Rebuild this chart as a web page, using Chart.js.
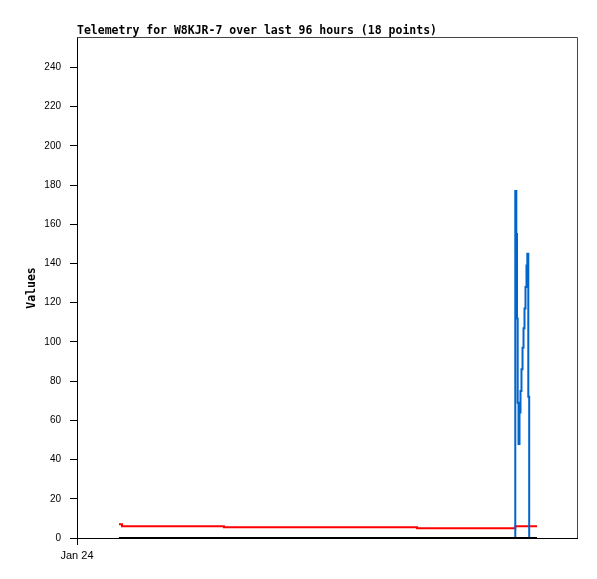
<!DOCTYPE html>
<html>
<head>
<meta charset="utf-8">
<script src="https://cdn.jsdelivr.net/npm/chart.js@4.4.1/dist/chart.umd.min.js"></script>
<style>
  html, body { margin: 0; padding: 0; background: #fff; }
  #wrap { width: 597px; height: 579px; }
</style>
</head>
<body>
<div id="wrap"><canvas id="telemetryChart" width="597" height="579"></canvas></div>
<script>
// hours since Jan 24 00:00
const hours = [8.06, 8.64, 28.2, 65.3, 84.15, 84.35, 84.48, 84.61, 84.77, 84.96, 85.15,
               85.34, 85.54, 85.73, 85.92, 86.11, 86.30, 86.46, 86.65, 86.82, 88.32];
const blueValues = [0, 0, 0, 0, 177, 155, 112, 69, 48, 64, 75,
                    86, 97, 107, 117, 128, 139, 145, 72, 0, 0];
const redValues = [7, 6, 5.5, 5, 6, 6, 6, 6, 6, 6, 6,
                   6, 6, 6, 6, 6, 6, 6, 6, 6, 6];
const blackValues = [0, 0, 0, 0, 0, 0, 0, 0, 0, 0, 0,
                     0, 0, 0, 0, 0, 0, 0, 0, 0, 0];
const xTickValues = [0];
const xTickLabels = ['Jan 24'];
const chartTitle = 'Telemetry for W8KJR-7 over last 96 hours (18 points)';

function toPoints(values) {
    return values.map((v, i) => ({ x: hours[i], y: v }));
}

function makeSeries(label, values, color) {
    return {
        label: label,
        data: toPoints(values),
        borderColor: color,
        backgroundColor: color,
        borderWidth: 2,
        pointRadius: 0,
        stepped: true,
        fill: false
    };
}

// title left-aligned with plot area, plus grey frame on top/right
const framePlugin = {
    id: 'frameAndTitle',
    beforeDatasetsDraw(chart) {
        const { ctx, chartArea } = chart;
        ctx.save();
        ctx.strokeStyle = '#444444';
        ctx.lineWidth = 1;
        ctx.beginPath();
        ctx.moveTo(chartArea.left, chartArea.top - 0.5);
        ctx.lineTo(chartArea.right + 0.5, chartArea.top - 0.5);
        ctx.lineTo(chartArea.right + 0.5, chartArea.bottom);
        ctx.stroke();
        ctx.restore();
    },
    afterDraw(chart) {
        const { ctx, chartArea } = chart;
        ctx.save();
        ctx.font = 'bold 11.5px "DejaVu Sans Mono"';
        ctx.fillStyle = '#000';
        ctx.textAlign = 'left';
        ctx.textBaseline = 'alphabetic';
        ctx.fillText(chartTitle, chartArea.left, 34);
        ctx.restore();
    }
};

const ctx = document.getElementById('telemetryChart').getContext('2d');
new Chart(ctx, {
    type: 'line',
    data: {
        datasets: [
            makeSeries('Black', blackValues, '#000000'),
            makeSeries('Blue', blueValues, '#0066cc'),
            makeSeries('Red', redValues, '#ff0000')
        ]
    },
    options: {
        responsive: false,
        animation: false,
        layout: { padding: { top: 38, right: 20, left: 0, bottom: 0 } },
        plugins: {
            legend: { display: false },
            tooltip: { enabled: false },
            title: { display: false }
        },
        scales: {
            x: {
                type: 'linear',
                min: 0,
                max: 96,
                afterBuildTicks: axis => {
                    axis.ticks = xTickValues.map(v => ({ value: v }));
                },
                afterFit: axis => { axis.height = 41; },
                ticks: {
                    callback: (value) => {
                        const i = xTickValues.indexOf(value);
                        return i >= 0 ? xTickLabels[i] : '';
                    },
                    color: '#000',
                    font: { family: 'Liberation Sans', size: 11 },
                    padding: 4,
                    maxRotation: 0
                },
                grid: {
                    drawOnChartArea: false,
                    drawTicks: true,
                    tickLength: 7,
                    color: '#000'
                },
                border: { display: true, color: '#000', width: 1 }
            },
            y: {
                min: 0,
                max: 255,
                afterFit: axis => { axis.width = 77; },
                ticks: {
                    stepSize: 20,
                    includeBounds: false,
                    color: '#000',
                    font: { family: 'Liberation Sans', size: 10 },
                    padding: 9
                },
                grid: {
                    drawOnChartArea: false,
                    drawTicks: true,
                    tickLength: 7,
                    color: '#000'
                },
                border: { display: true, color: '#000', width: 1 },
                title: {
                    display: true,
                    text: 'Values',
                    color: '#000',
                    font: { family: 'DejaVu Sans Mono', size: 11.5, weight: 'bold' },
                    padding: { top: 25, bottom: 0 }
                }
            }
        }
    },
    plugins: [framePlugin]
});
</script>
</body>
</html>
